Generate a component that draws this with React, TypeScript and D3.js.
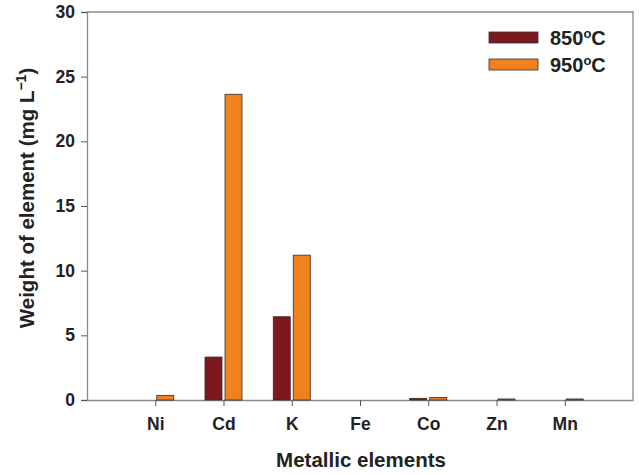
import React, { useRef, useEffect } from "react";
import * as d3 from "d3";

const elements = ["Ni", "Cd", "K", "Fe", "Co", "Zn", "Mn"];
const series = ["850", "950"];
const values850 = [0, 3.32, 6.44, 0, 0.13, 0, 0];
const values950 = [0.36, 23.64, 11.2, 0, 0.2, 0.08, 0.08];
const yTicks = [0, 5, 10, 15, 20, 25, 30];
const colors = ["#7d181e", "#f0821e"];

const App = () => {
  const ref = useRef<SVGSVGElement>(null);

  useEffect(() => {
    const width = 639;
    const height = 475;
    const margin = { top: 12, right: 6, bottom: 75, left: 87 };
    const font = "Arial, 'Liberation Sans', sans-serif";

    const svg = d3.select(ref.current);
    svg.selectAll("*").remove();

    const x = d3
      .scalePoint<string>()
      .domain(elements)
      .range([margin.left, width - margin.right])
      .padding(1);

    const y = d3
      .scaleLinear()
      .domain([0, 30])
      .range([height - margin.bottom, margin.top]);

    // frame: top and right lines
    svg
      .append("path")
      .attr(
        "d",
        `M${margin.left},${margin.top}H${width - margin.right}V${height - margin.bottom}`
      )
      .attr("fill", "none")
      .attr("stroke", "#8a8a8a")
      .attr("stroke-width", 1.3);

    // y axis
    const yAxis = svg
      .append("g")
      .attr("transform", `translate(${margin.left},0)`)
      .call(d3.axisLeft(y).tickValues(yTicks).tickSize(6).tickPadding(6));
    yAxis.select(".domain").attr("stroke", "#8a8a8a").attr("stroke-width", 1.3);
    yAxis.selectAll(".tick line").attr("stroke", "#555");
    yAxis
      .selectAll(".tick text")
      .attr("font-family", font)
      .attr("font-size", 17.5)
      .attr("font-weight", "bold")
      .attr("fill", "#222");

    // x axis
    const xAxis = svg
      .append("g")
      .attr("transform", `translate(0,${height - margin.bottom})`)
      .call(d3.axisBottom(x).tickSize(6).tickPadding(12).tickSizeOuter(0));
    xAxis.select(".domain").attr("stroke", "#8a8a8a").attr("stroke-width", 1.3);
    xAxis.selectAll(".tick line").attr("stroke", "#555");
    xAxis
      .selectAll(".tick text")
      .attr("font-family", font)
      .attr("font-size", 17.5)
      .attr("font-weight", "bold")
      .attr("fill", "#222");

    // bars
    const barW = 17;
    const gap = 1.5;
    [values850, values950].forEach((vals, si) => {
      svg
        .append("g")
        .selectAll("rect")
        .data(vals.map((v, i) => ({ name: elements[i], v })).filter((d) => d.v > 0))
        .enter()
        .append("rect")
        .attr("x", (d) => (x(d.name) as number) + (si === 0 ? -gap - barW : gap))
        .attr("y", (d) => y(d.v))
        .attr("width", barW)
        .attr("height", (d) => y(0) - y(d.v))
        .attr("fill", colors[si])
        .attr("stroke", "#3a2a2a")
        .attr("stroke-width", 0.8);
    });

    // axis titles
    svg
      .append("text")
      .attr("x", 361)
      .attr("y", 467)
      .attr("text-anchor", "middle")
      .attr("font-family", font)
      .attr("font-size", 20.5)
      .attr("font-weight", "bold")
      .attr("fill", "#222")
      .text("Metallic elements");

    const yTitle = svg
      .append("text")
      .attr("transform", `translate(34,198) rotate(-90)`)
      .attr("text-anchor", "middle")
      .attr("font-family", font)
      .attr("font-size", 20.5)
      .attr("font-weight", "bold")
      .attr("fill", "#222");
    yTitle.append("tspan").text("Weight of element (mg L");
    yTitle
      .append("tspan")
      .attr("dy", -8)
      .attr("font-size", 14)
      .text("\u22121");
    yTitle.append("tspan").attr("dy", 8).text(")");

    // legend
    const legend = svg.append("g").attr("transform", "translate(489,32)");
    series.forEach((s, i) => {
      const g = legend.append("g").attr("transform", `translate(0,${i * 27})`);
      g.append("rect")
        .attr("width", 49)
        .attr("height", 11)
        .attr("fill", colors[i])
        .attr("stroke", "#3a2a2a")
        .attr("stroke-width", 0.8);
      const t = g
        .append("text")
        .attr("x", 61)
        .attr("y", 13)
        .attr("font-family", font)
        .attr("font-size", 20)
        .attr("font-weight", "bold")
        .attr("fill", "#222");
      t.append("tspan").text(s);
      t.append("tspan").attr("dy", -7).attr("font-size", 13).text("o");
      t.append("tspan").attr("dy", 7).text("C");
    });
  }, []);

  return <svg ref={ref} width={639} height={475} style={{ position: "absolute", left: 0, top: 0 }} />;
};

export default App;
